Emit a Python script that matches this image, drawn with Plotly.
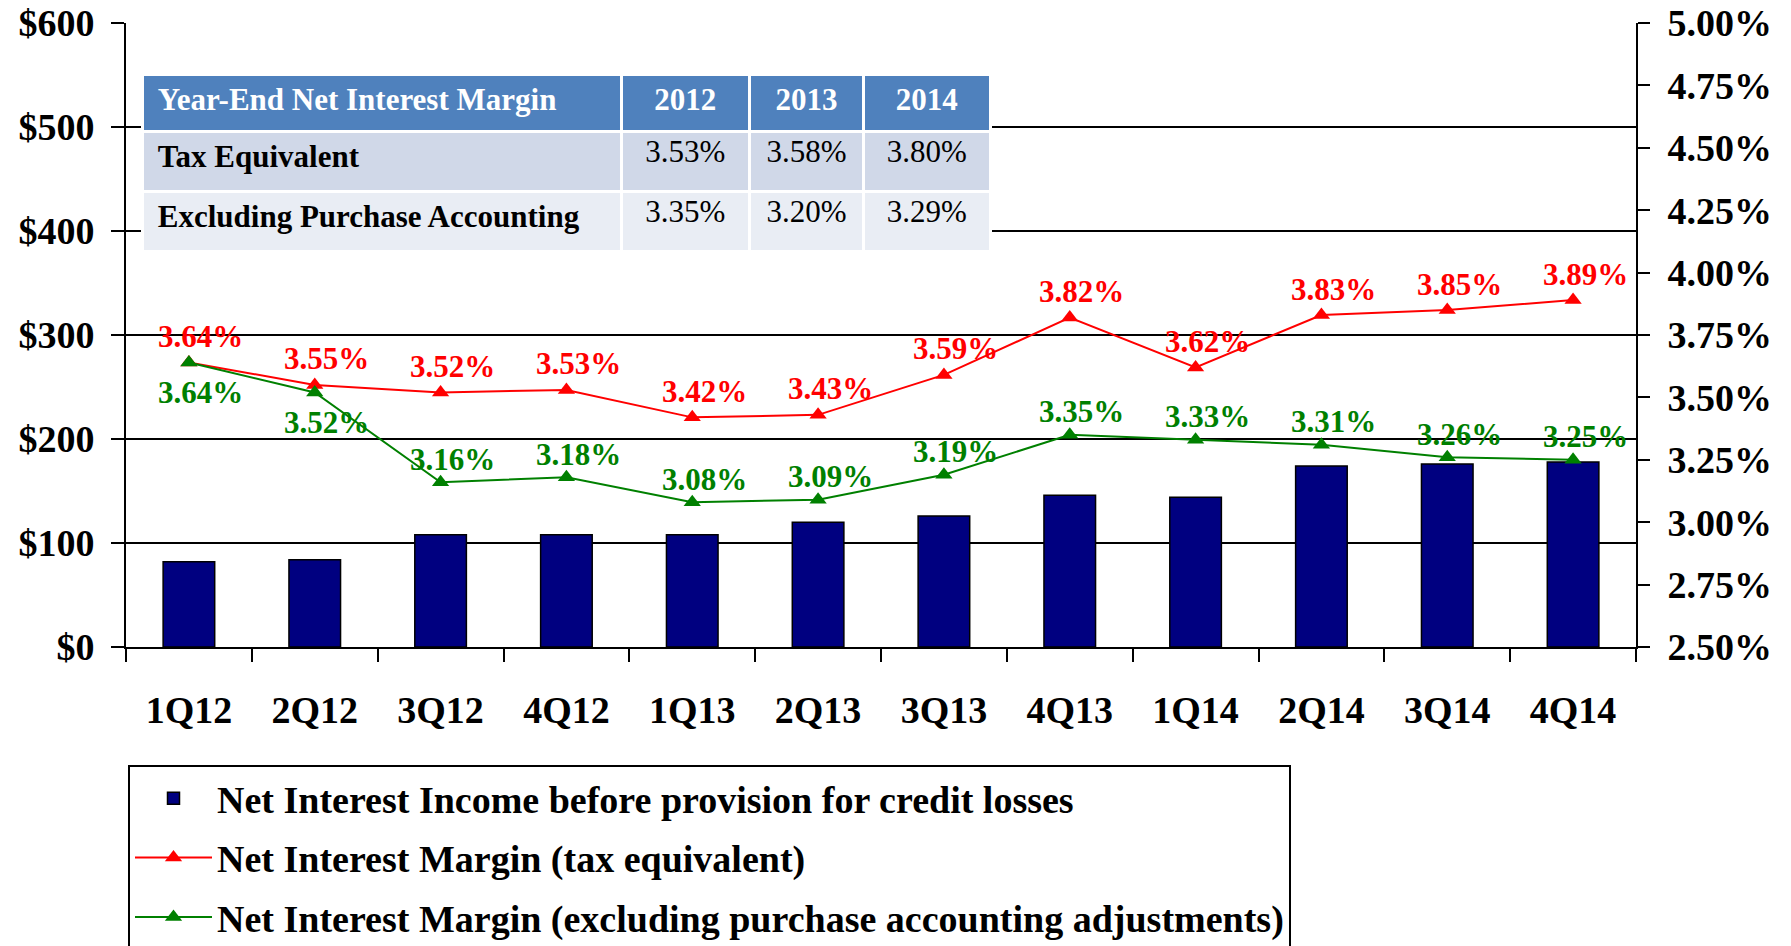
import plotly.graph_objects as go

# ---------------- data ----------------
quarters = ["1Q12", "2Q12", "3Q12", "4Q12", "1Q13", "2Q13",
            "3Q13", "4Q13", "1Q14", "2Q14", "3Q14", "4Q14"]
net_interest_income = [82, 84, 108, 108, 108, 120, 126, 146, 144, 174, 176, 178]
nim_tax_equivalent = [3.64, 3.55, 3.52, 3.53, 3.42, 3.43, 3.59, 3.82, 3.62, 3.83, 3.85, 3.89]
nim_excl_purchase = [3.64, 3.52, 3.16, 3.18, 3.08, 3.09, 3.19, 3.35, 3.33, 3.31, 3.26, 3.25]

table_title = "Year-End Net Interest Margin"
table_years = ["2012", "2013", "2014"]
table_row_names = ["Tax Equivalent", "Excluding Purchase Accounting"]
table_tax_equivalent = [3.53, 3.58, 3.80]
table_excl_purchase = [3.35, 3.20, 3.29]

left_ticks = [0, 100, 200, 300, 400, 500, 600]
right_ticks = [2.50, 2.75, 3.00, 3.25, 3.50, 3.75, 4.00, 4.25, 4.50, 4.75, 5.00]

# label placement style for the green series (first two below the marker)
green_label_below = [True, True, False, False, False, False,
                     False, False, False, False, False, False]

# ---------------- styles ----------------
FONT = "Liberation Serif"
NAVY = "#000080"
RED = "#FF0000"
GREEN = "#008000"
W, H = 1791, 946

fig = go.Figure()

fig.add_trace(go.Bar(
    x=quarters, y=net_interest_income,
    name="Net Interest Income before provision for credit losses",
    marker=dict(color=NAVY, line=dict(color="black", width=1.5)),
    legendgroup="a", yaxis="y",
))
fig.add_trace(go.Scatter(
    x=quarters, y=nim_tax_equivalent, yaxis="y2",
    name="Net Interest Margin (tax equivalent)",
    mode="lines+markers",
    line=dict(color=RED, width=2),
    marker=dict(symbol="triangle-up", size=15, color=RED),
    legendgroup="b",
))
fig.add_trace(go.Scatter(
    x=quarters, y=nim_excl_purchase, yaxis="y2",
    name="Net Interest Margin (excluding purchase accounting adjustments)",
    mode="lines+markers",
    line=dict(color=GREEN, width=2),
    marker=dict(symbol="triangle-up", size=15, color=GREEN),
    legendgroup="c",
))

# data labels
annotations = []
for q, v in zip(quarters, nim_tax_equivalent):
    annotations.append(dict(
        x=q, y=v, xref="x", yref="y2", text=f"{v:.2f}%", showarrow=False,
        xshift=12, yshift=26,
        font=dict(family=FONT, size=31, color=RED, weight="bold"),
    ))
for q, v, below in zip(quarters, nim_excl_purchase, green_label_below):
    annotations.append(dict(
        x=q, y=v, xref="x", yref="y2", text=f"{v:.2f}%", showarrow=False,
        xshift=12, yshift=-30 if below else 23,
        font=dict(family=FONT, size=31, color=GREEN, weight="bold"),
    ))

# table
NB = "\u00a0"
header_vals = [[f"{NB}<b>{table_title}</b>"]] + [[f"<b>{y}</b>"] for y in table_years]
cell_vals = [[NB + "<b>" + r + "</b>" for r in table_row_names]]
for a, b in zip(table_tax_equivalent, table_excl_purchase):
    cell_vals.append([f"{a:.2f}%", f"{b:.2f}%"])

plot_top, plot_bottom = 23, 647
plot_left, plot_right = 126, 1636
ph = plot_bottom - plot_top
pw = plot_right - plot_left

def px_to_paper_x(px):
    return (px - plot_left) / pw

def px_to_paper_y(py):
    return (plot_bottom - py) / ph

fig.add_trace(go.Table(
    domain=dict(x=[px_to_paper_x(142), px_to_paper_x(990)],
                y=[px_to_paper_y(253), px_to_paper_y(74)]),
    columnwidth=[478, 128, 114, 126],
    header=dict(
        values=header_vals,
        fill_color="#4F81BD",
        line=dict(color="white", width=3),
        align=["left", "center", "center", "center"],
        font=dict(family=FONT, size=31, color="white"),
        height=57,
    ),
    cells=dict(
        values=cell_vals,
        fill_color=[["#D0D8E8", "#E9EDF4"]] * 4,
        line=dict(color="white", width=3),
        align=["left", "center", "center", "center"],
        font=dict(family=FONT, size=31, color="black"),
        height=60,
    ),
))

tickfont = dict(family=FONT, size=38, color="black", weight="bold")

fig.update_layout(
    width=W, height=H,
    margin=dict(l=plot_left, r=W - plot_right, t=plot_top, b=H - plot_bottom, autoexpand=False),
    paper_bgcolor="white", plot_bgcolor="white",
    bargap=0.59,
    showlegend=True,
    annotations=annotations,
    legend=dict(
        x=px_to_paper_x(128), y=px_to_paper_y(765), xanchor="left", yanchor="top",
        font=dict(family=FONT, size=38, color="black", weight="bold"),
        bordercolor="black", borderwidth=2, bgcolor="white",
        traceorder="grouped", tracegroupgap=7, itemwidth=77,
    ),
    xaxis=dict(
        type="category", range=[-0.5, len(quarters) - 0.5],
        tickson="boundaries", ticks="outside", ticklen=13,
        tickwidth=2, tickcolor="black", showline=True, linecolor="black",
        linewidth=2, showgrid=False, tickfont=tickfont, ticklabelstandoff=28,
    ),
    xaxis2=dict(
        overlaying="x", anchor="y", range=[-0.5, len(quarters) - 0.5],
        tickmode="array", tickvals=[i - 0.5 for i in range(len(quarters) + 1)],
        ticks="inside", ticklen=14, tickwidth=2, tickcolor="black",
        showticklabels=False, showgrid=False, showline=False, zeroline=False,
    ),
    yaxis=dict(
        range=[0, 600], tickmode="array", tickvals=left_ticks,
        ticktext=[f"${v}" for v in left_ticks],
        ticks="outside", ticklen=13,
        tickwidth=2, tickcolor="black", showline=True, linecolor="black",
        linewidth=2, showgrid=True, gridcolor="black", gridwidth=2,
        zeroline=False, tickfont=tickfont, ticklabelstandoff=9,
    ),
    yaxis2=dict(
        overlaying="y", side="right", range=[2.5, 5.0], tickmode="array",
        tickvals=right_ticks, ticktext=[f"{v:.2f}%" for v in right_ticks],
        ticks="outside", ticklen=12, tickwidth=2, tickcolor="black",
        showline=True, linecolor="black", linewidth=2, showgrid=False,
        zeroline=False, tickfont=tickfont, ticklabelstandoff=10,
    ),
    yaxis3=dict(
        overlaying="y", side="right", anchor="x", range=[2.5, 5.0],
        tickmode="array", tickvals=right_ticks, ticks="inside", ticklen=13,
        tickwidth=2, tickcolor="black", showticklabels=False,
        showgrid=False, showline=False, zeroline=False,
    ),
)

fig.write_html("out.html", config={"displayModeBar": False},
               post_script="document.body.style.margin='0px';")
